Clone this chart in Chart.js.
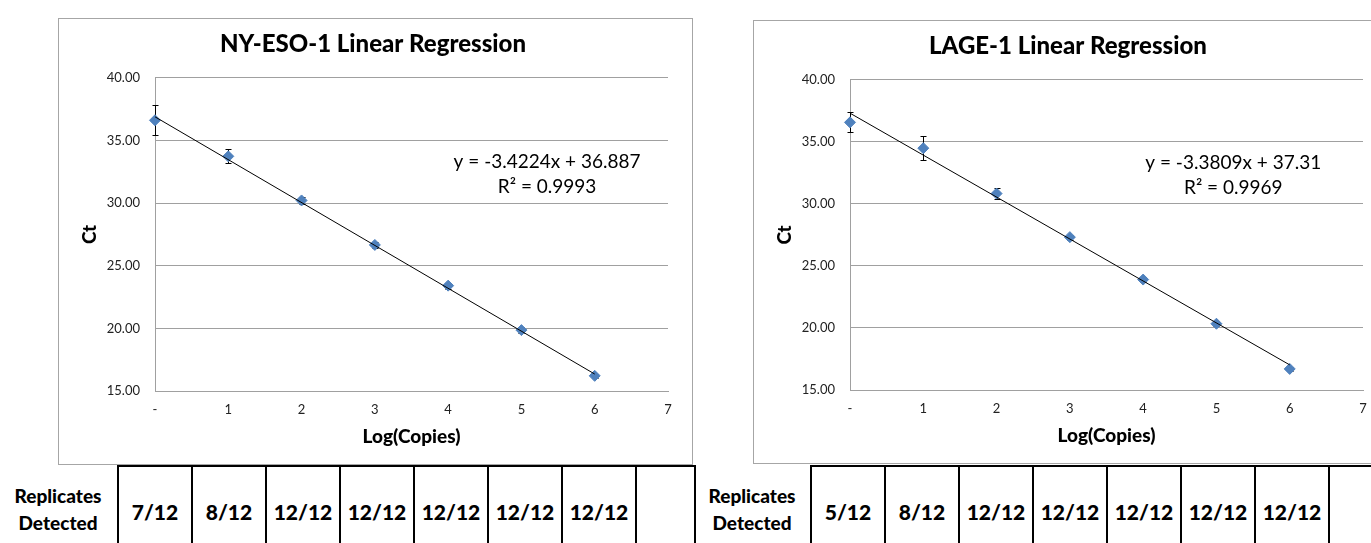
<!DOCTYPE html>
<html>
<head>
<meta charset="utf-8">
<script src="https://cdn.jsdelivr.net/npm/chart.js@4.4.1/dist/chart.umd.min.js"></script>
<style>
    html, body { margin: 0; padding: 0; width: 1371px; height: 543px; overflow: hidden; background: #fff; font-family: Lato, sans-serif; }
    .box { position: absolute; border: 1px solid #a6a6a6; box-sizing: border-box; }
    canvas { position: absolute; }
    .cell { position: absolute; box-sizing: border-box; border-left: 2px solid #000; border-top: 2px solid #000; height: 100px;
            display: flex; align-items: center; justify-content: center; font-weight: 900; font-size: 21px; color: #000; padding-bottom: 10px; }
    .rowlabel { position: absolute; width: 110px; text-align: center; font-weight: 900; font-size: 19px; line-height: 27px; color: #000; }
</style>
</head>
<body>
<div class="box" style="left:58px; top:18px; width:635px; height:447px;"></div>
<div class="box" style="left:753px; top:20px; width:635px; height:444px;"></div>
<canvas id="nyEsoChart" width="634" height="446" style="left:58px; top:18px; width:634px; height:446px;"></canvas>
<canvas id="lageChart" width="634" height="443" style="left:753px; top:20px; width:634px; height:443px;"></canvas>
<div id="tables"></div>

<script>
// x値 (Log(Copies))
const logCopies = [0, 1, 2, 3, 4, 5, 6];

// NY-ESO-1: 平均Ct と 誤差
const nyEsoCt = [36.61, 33.73, 30.21, 26.66, 23.41, 19.86, 16.21];
const nyEsoErr = [1.20, 0.55, 0.30, 0.25, 0.25, 0.25, 0.15];
const nyEsoSlope = -3.4224;
const nyEsoIntercept = 36.887;
const nyEsoR2 = '0.9993';
const nyEsoReplicates = ['7/12', '8/12', '12/12', '12/12', '12/12', '12/12', '12/12', ''];

// LAGE-1
const lageCt = [36.57, 34.49, 30.83, 27.32, 23.90, 20.34, 16.70];
const lageErr = [0.80, 0.95, 0.45, 0.20, 0.20, 0.20, 0.15];
const lageSlope = -3.3809;
const lageIntercept = 37.31;
const lageR2 = '0.9969';
const lageReplicates = ['5/12', '8/12', '12/12', '12/12', '12/12', '12/12', '12/12', ''];

// 軸
const yTicks = [15, 20, 25, 30, 35, 40];
const xMax = 7;

const FONT = 'Lato, sans-serif';
const GRID = '#a0a0a0';

/**
 * 誤差バーを描く
 */
function errorBarPlugin(values, errors) {
    return {
        id: 'errorBars',
        beforeDatasetsDraw(chart) {
            const { ctx, scales: { x, y } } = chart;
            ctx.save();
            ctx.strokeStyle = '#000';
            ctx.lineWidth = 1;
            values.forEach((v, i) => {
                const px = Math.round(x.getPixelForValue(logCopies[i])) + 0.5;
                const top = Math.round(y.getPixelForValue(v + errors[i])) + 0.5;
                const bot = Math.round(y.getPixelForValue(v - errors[i])) + 0.5;
                ctx.beginPath();
                ctx.moveTo(px, top); ctx.lineTo(px, bot);
                ctx.moveTo(px - 3, top); ctx.lineTo(px + 3, top);
                ctx.moveTo(px - 3, bot); ctx.lineTo(px + 3, bot);
                ctx.stroke();
            });
            ctx.restore();
        }
    };
}

/**
 * 回帰式ラベル (データ座標に置く)
 */
function equationPlugin(lines, pos) {
    return {
        id: 'equation',
        afterDraw(chart) {
            const { ctx, scales: { x, y } } = chart;
            ctx.save();
            ctx.fillStyle = '#000';
            ctx.font = '19px ' + FONT;
            ctx.textAlign = 'center';
            ctx.textBaseline = 'middle';
            lines.forEach((txt, i) => {
                ctx.fillText(txt, x.getPixelForValue(pos[0]), y.getPixelForValue(pos[1] - i * 2));
            });
            ctx.restore();
        }
    };
}

function fmtEq(slope, intercept) {
    return `y = ${slope}x + ${intercept}`;
}

function makeChart(id, title, ct, err, slope, intercept, r2, eqPos) {
    const points = logCopies.map((x, i) => ({ x: x, y: ct[i] }));
    const fitLine = [0, logCopies[logCopies.length - 1]].map(x => ({ x: x, y: slope * x + intercept }));

    new Chart(document.getElementById(id), {
        type: 'scatter',
        data: {
            datasets: [
                {
                    type: 'line',
                    data: fitLine,
                    borderColor: '#000',
                    borderWidth: 1,
                    pointRadius: 0,
                    fill: false,
                    clip: false
                },
                {
                    data: points,
                    pointStyle: 'rectRot',
                    pointRadius: 5.5,
                    backgroundColor: '#4F81BD',
                    borderColor: '#4F81BD',
                    borderWidth: 1,
                    clip: false
                }
            ]
        },
        options: {
            responsive: false,
            animation: false,
            layout: { padding: { left: 20, right: 24, top: 0, bottom: 0 } },
            plugins: {
                legend: { display: false },
                tooltip: { enabled: false },
                title: {
                    display: true,
                    text: title,
                    color: '#000',
                    font: { family: FONT, size: 24, weight: '900' },
                    padding: { top: 12, bottom: 19 }
                }
            },
            scales: {
                x: {
                    type: 'linear',
                    min: 0,
                    max: xMax,
                    afterFit(scale) { scale.height = 73; },
                    grid: { display: false, drawTicks: false },
                    border: { display: true, color: GRID },
                    ticks: {
                        stepSize: 1,
                        color: '#222',
                        padding: 11,
                        font: { family: FONT, size: 13 },
                        callback: v => (v === 0 ? '-' : v)
                    },
                    title: {
                        display: true,
                        text: 'Log(Copies)',
                        color: '#000',
                        font: { family: FONT, size: 19, weight: '900' },
                        padding: { top: 0, bottom: 16 }
                    }
                },
                y: {
                    min: yTicks[0],
                    max: yTicks[yTicks.length - 1],
                    afterFit(scale) { scale.width = 77; },
                    afterBuildTicks(scale) { scale.ticks = yTicks.map(v => ({ value: v })); },
                    grid: { color: GRID, drawTicks: false },
                    border: { display: true, color: GRID },
                    ticks: {
                        color: '#222',
                        padding: 15,
                        font: { family: FONT, size: 13 },
                        callback: v => v.toFixed(2)
                    },
                    title: {
                        display: true,
                        text: 'Ct',
                        color: '#000',
                        font: { family: FONT, size: 19, weight: '900' },
                        padding: { top: 0, bottom: 0 }
                    }
                }
            }
        },
        plugins: [
            errorBarPlugin(ct, err),
            equationPlugin([fmtEq(slope, intercept), 'R² = ' + r2], eqPos)
        ]
    });
}

makeChart('nyEsoChart', 'NY-ESO-1 Linear Regression', nyEsoCt, nyEsoErr, nyEsoSlope, nyEsoIntercept, nyEsoR2, [5.35, 33.3]);
makeChart('lageChart', 'LAGE-1 Linear Regression', lageCt, lageErr, lageSlope, lageIntercept, lageR2, [5.23, 33.33]);

/**
 * Replicates Detected の表
 */
function buildTable(left, labelCenter, values, lastWidth) {
    const root = document.getElementById('tables');
    const label = document.createElement('div');
    label.className = 'rowlabel';
    label.style.left = (labelCenter - 55) + 'px';
    label.style.top = '482px';
    label.innerHTML = 'Replicates<br>Detected';
    root.appendChild(label);

    values.forEach((v, i) => {
        const cell = document.createElement('div');
        cell.className = 'cell';
        const w = (i === values.length - 1) ? lastWidth : 74;
        cell.style.left = (left + i * 74) + 'px';
        cell.style.top = '465px';
        cell.style.width = w + 'px';
        if (i === values.length - 1) cell.style.borderRight = '2px solid #000';
        cell.textContent = v;
        root.appendChild(cell);
    });
}

buildTable(117, 58, nyEsoReplicates, 61);
buildTable(810, 752, lageReplicates, 76);
</script>
</body>
</html>
